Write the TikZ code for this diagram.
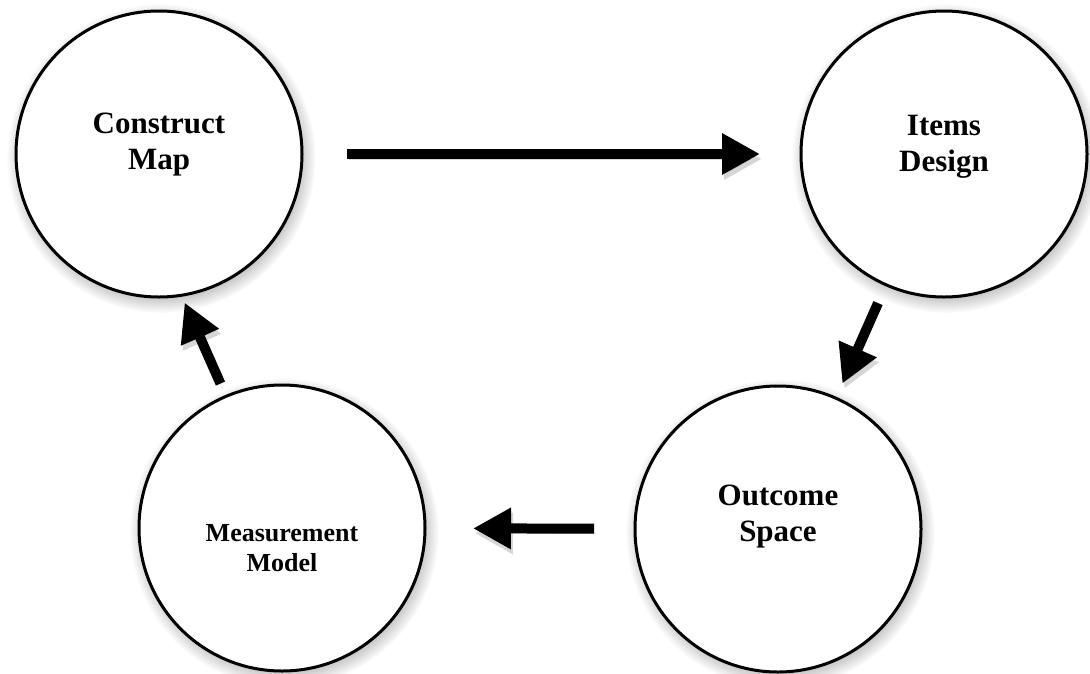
\documentclass[tikz,border=0pt]{standalone}
\usepackage{fontspec}
\setmainfont{Liberation Serif}
\usepackage{tikz}
\usetikzlibrary{arrows.meta, shadows, fadings}
\usepackage{xcolor}

\begin{document}
\begin{tikzpicture}[
    x=1pt, y=-1pt,
    stage/.style={circle, draw=black, line width=3pt, fill=white, minimum size=286pt, inner sep=0pt, outer sep=0pt,
        circular drop shadow={shadow xshift=2pt, shadow yshift=-4pt, shadow scale=1.08, opacity=.7, fill=black!45}},
    stagetext/.style={align=center, font=\bfseries\fontsize{31}{36}\selectfont},
    flow/.style={line width=10pt, -{Triangle[length=38pt, width=39pt]},
        preaction={draw=black!40, opacity=.4, transform canvas={shift={(2pt,-5pt)}}}}
]
    \useasboundingbox (0,0) rectangle (1090,673);

    % Construct Map
    \node[stage] (cmap) at (159,154) {};
    \node[stagetext] (cmaptext) at ([yshift=9pt]cmap.center) {Construct\\Map};

    % Items Design
    \node[stage] (items) at (944,154) {};
    \node[stagetext] (itemstext) at ([yshift=7pt]items.center) {Items\\Design};

    % Outcome Space
    \node[stage] (outcome) at (778,529) {};
    \node[stagetext] (outcometext) at ([yshift=12pt]outcome.center) {Outcome\\Space};

    % Measurement Model
    \node[stage] (mmodel) at (282,528) {};
    \node[stagetext, font=\bfseries\fontsize{26}{30}\selectfont] (mmodeltext) at ([yshift=-20pt]mmodel.center) {Measurement\\Model};

    % Cycle
    \draw[flow, shorten <=45pt, shorten >=41pt] (cmap) -- (items);
    \draw[flow, shorten <=20pt, shorten >=16pt] (items) -- (outcome);
    \draw[flow, shorten <=41pt, shorten >=48pt] (outcome) -- (mmodel);
    \draw[flow, shorten <=14pt, shorten >=8pt] (mmodel.113) -- (cmap.279);

\end{tikzpicture}
\end{document}
